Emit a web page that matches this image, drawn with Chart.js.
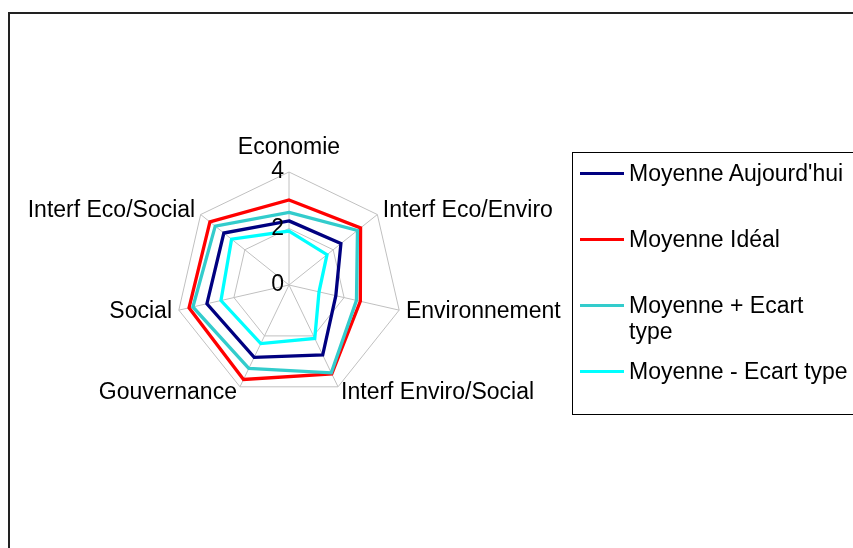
<!DOCTYPE html>
<html>
<head>
<meta charset="utf-8">
<script src="https://cdn.jsdelivr.net/npm/chart.js@4"></script>
<style>
  body {
    margin: 0;
    width: 853px;
    height: 548px;
    background: #fff;
    overflow: hidden;
    position: relative;
    font-family: "Liberation Sans", Arial, sans-serif;
  }
  #frame {
    position: absolute;
    left: 8px;
    top: 12px;
    width: 900px;
    height: 600px;
    border: 2px solid #222;
  }
  #wrap {
    position: absolute;
    left: -20px;
    top: 116px;
    width: 618px;
    height: 314px;
  }
  #legend {
    position: absolute;
    left: 572px;
    top: 152px;
    width: 300px;
    height: 263px;
    box-sizing: border-box;
    border: 1px solid #000;
    margin: 0;
    padding: 7px 0 0 0;
    list-style: none;
    font-size: 23px;
    color: #000;
  }
  #legend li {
    position: relative;
    height: 66px;
    line-height: 26px;
    padding-left: 56px;
    width: 221px;
  }
  #legend li span {
    position: absolute;
    left: 7px;
    top: 11.5px;
    width: 44px;
    height: 3px;
  }
</style>
</head>
<body>
<div id="frame"></div>
<div id="wrap"><canvas id="radarChart"></canvas></div>
<ul id="legend"></ul>
<script>
// Données
const categories = ["Economie", "Interf Eco/Enviro", "Environnement", "Interf Enviro/Social", "Gouvernance", "Social", "Interf Eco/Social"];
const moyenneAujourdhui = [2.27, 2.35, 1.70, 2.75, 2.84, 2.98, 2.95];
const moyenneIdeal = [3.01, 3.24, 2.59, 3.49, 3.71, 3.63, 3.58];
const moyennePlusEcart = [2.57, 3.10, 2.45, 3.45, 3.28, 3.49, 3.34];
const moyenneMoinsEcart = [1.91, 1.72, 1.09, 2.10, 2.30, 2.47, 2.60];
const seriesNames = ["Moyenne Aujourd'hui", "Moyenne Idéal", "Moyenne + Ecart type", "Moyenne - Ecart type"];
const seriesColors = ["#000080", "#ff0000", "#33cccc", "#00ffff"];
const tickValues = [0, 2, 4];

Chart.defaults.font.family = "'Liberation Sans', Arial, sans-serif";
Chart.defaults.font.size = 23;
Chart.defaults.color = "#000";

// Étiquettes de l'axe (0, 2, 4) à gauche de l'axe vertical, comme dans Excel
const tickLabelPlugin = {
  id: "tickLabels",
  afterDatasetsDraw(chart) {
    const scale = chart.scales.r;
    const c = chart.ctx;
    c.save();
    c.font = "23px 'Liberation Sans', Arial, sans-serif";
    c.fillStyle = "#000";
    c.textAlign = "right";
    c.textBaseline = "middle";
    scale.ticks.forEach((t) => {
      const d = scale.getDistanceFromCenterForValue(t.value);
      c.fillText(String(t.value), scale.xCenter - 5, scale.yCenter - d);
    });
    c.restore();
  },
};

const allSeries = [moyenneAujourdhui, moyenneIdeal, moyennePlusEcart, moyenneMoinsEcart];

const ctx = document.getElementById("radarChart").getContext("2d");
const radarChart = new Chart(ctx, {
  type: "radar",
  data: {
    labels: categories,
    datasets: allSeries.map((values, i) => ({
      label: seriesNames[i],
      data: values,
      borderColor: seriesColors[i],
      borderWidth: 3.3,
      borderJoinStyle: "miter",
      pointRadius: 0,
      pointHoverRadius: 0,
      fill: false,
      order: allSeries.length - i,
    })),
  },
  options: {
    responsive: true,
    maintainAspectRatio: false,
    animation: false,
    layout: { padding: { top: 20, bottom: 20, left: 0, right: 0 } },
    plugins: {
      legend: { display: false },
      tooltip: { enabled: false },
    },
    scales: {
      r: {
        min: tickValues[0],
        max: tickValues[tickValues.length - 1],
        ticks: {
          stepSize: tickValues[1] - tickValues[0],
          display: false,
        },
        grid: { color: "#c0c0c0", lineWidth: 1 },
        angleLines: { color: "#c0c0c0", lineWidth: 1 },
        pointLabels: {
          font: { size: 23, lineHeight: 0 },
          color: "#000",
          padding: (c) => (c.index === 0 ? 24 : 7),
        },
      },
    },
  },
  plugins: [tickLabelPlugin],
});

// Légende HTML à partir des séries
const legend = document.getElementById("legend");
radarChart.data.datasets.forEach((ds) => {
  const li = document.createElement("li");
  const sw = document.createElement("span");
  sw.style.background = ds.borderColor;
  li.appendChild(sw);
  li.appendChild(document.createTextNode(ds.label));
  legend.appendChild(li);
});
</script>
</body>
</html>
